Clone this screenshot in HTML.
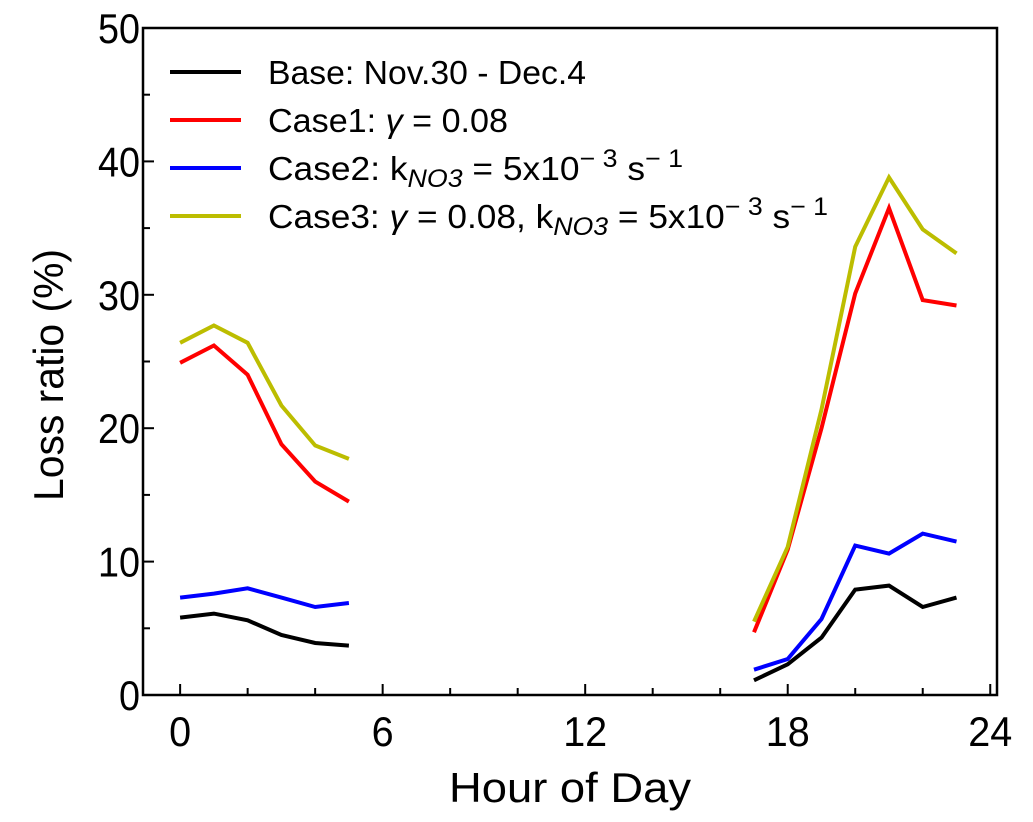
<!DOCTYPE html>
<html><head><meta charset="utf-8"><style>
html,body{margin:0;padding:0;background:#fff}
svg{display:block;font-family:"Liberation Sans",sans-serif}
</style></head><body>
<svg id="chart" width="1033" height="822" viewBox="0 0 1033 822">
<rect x="0" y="0" width="1033" height="822" fill="#fff"/>
<g id="marks"></g>
<g id="axes"></g>
<rect x="143" y="28" width="854" height="667" fill="none" stroke="#000" stroke-width="2.5"/>
<text x="570" y="802" font-size="42" text-anchor="middle" textLength="242" lengthAdjust="spacingAndGlyphs">Hour of Day</text>
<text transform="translate(63,375) rotate(-90)" font-size="42" text-anchor="middle" textLength="252" lengthAdjust="spacingAndGlyphs">Loss ratio (%)</text>
<g id="legend"></g>
</svg>
<script>
const hoursAM = [0,1,2,3,4,5];
const hoursPM = [17,18,19,20,21,22,23];
const baseAM = [5.8,6.1,5.6,4.5,3.9,3.7];
const basePM = [1.1,2.3,4.3,7.9,8.2,6.6,7.3];
const case1AM = [24.9,26.2,24.0,18.8,16.0,14.5];
const case1PM = [4.7,10.9,20.0,30.1,36.5,29.6,29.2];
const case2AM = [7.3,7.6,8.0,7.3,6.6,6.9];
const case2PM = [1.9,2.7,5.7,11.2,10.6,12.1,11.5];
const case3AM = [26.4,27.7,26.4,21.7,18.7,17.7];
const case3PM = [5.5,11.1,21.4,33.6,38.8,34.9,33.1];
const xTicks = [0,6,12,18,24];
const yTicks = [0,10,20,30,40,50];
const legendLabels = ["Base: Nov.30 - Dec.4","Case1: ~γ = 0.08","Case2: k_NO3 = 5x10^-3 s^-1","Case3: ~γ = 0.08, k_NO3 = 5x10^-3 s^-1"];

const NS="http://www.w3.org/2000/svg";
const X0=143,X1=997,Y0=695,Y1=28;
const xMin=-1.1,xMax=24.2,yMin=0,yMax=50;
function sx(v){return X0+(v-xMin)/(xMax-xMin)*(X1-X0);}
function sy(v){return Y0-(v-yMin)/(yMax-yMin)*(Y0-Y1);}
function mk(t,a,p){const e=document.createElementNS(NS,t);for(const k in a)e.setAttribute(k,a[k]);p.appendChild(e);return e;}
const marks=document.getElementById('marks'),axes=document.getElementById('axes'),legend=document.getElementById('legend');
const series=[
 {name:'base',color:'#000000',am:baseAM,pm:basePM},
 {name:'case1',color:'#ff0000',am:case1AM,pm:case1PM},
 {name:'case2',color:'#0000ff',am:case2AM,pm:case2PM},
 {name:'case3',color:'#bcbd00',am:case3AM,pm:case3PM}];
series.forEach(s=>{
 [[hoursAM,s.am,'morning'],[hoursPM,s.pm,'evening']].forEach(([xs,ys,part])=>{
  const pts=xs.map((h,i)=>sx(h).toFixed(1)+','+sy(ys[i]).toFixed(1)).join(' ');
  const l=mk('polyline',{points:pts,fill:'none',stroke:s.color,'stroke-width':4,'stroke-linejoin':'miter'},marks);
  
  
 });
});
for(let h=0;h<=24;h+=2){
 const major=h%6===0;
 const t=mk('line',{x1:sx(h),x2:sx(h),y1:Y0,y2:Y0-(major?11:7),stroke:'#000','stroke-width':2},axes);
 
 
}
xTicks.forEach(v=>{
 const s=String(v);
 const t=mk('text',{x:sx(v),y:746,'font-size':42,'text-anchor':'middle',textLength:s.length*22,lengthAdjust:'spacingAndGlyphs'},axes);
 t.textContent=s;
 
 
});
for(let v=0;v<=50;v+=5){
 const major=v%10===0;
 const t=mk('line',{x1:X0,x2:X0+(major?11:7),y1:sy(v),y2:sy(v),stroke:'#000','stroke-width':2},axes);
 
 
}
yTicks.forEach(v=>{
 const s=String(v);
 const t=mk('text',{x:140,y:sy(v)+15,'font-size':42,'text-anchor':'end',textLength:s.length*21,lengthAdjust:'spacingAndGlyphs'},axes);
 t.textContent=s;
 
 
});
const legendWidths=[318,240,415,560];
legendLabels.forEach((lab,i)=>{
 const y=72+i*48;
 const l=mk('line',{x1:170,x2:241,y1:y,y2:y,stroke:series[i].color,'stroke-width':4},legend);
 
 
 const t=mk('text',{x:268,y:y+12,'font-size':33,textLength:legendWidths[i],lengthAdjust:'spacingAndGlyphs'},legend);
 
 
 const parts=lab.split(/(_NO3|\^-3|\^-1|~γ)/).filter(p=>p);
 let pendingDy=0;
 parts.forEach(p=>{
  const ts=document.createElementNS(NS,'tspan');
  let dy=pendingDy;pendingDy=0;
  if(p==='_NO3'){ts.textContent='NO3';ts.setAttribute('font-size','25');ts.setAttribute('font-style','italic');dy+=7;pendingDy=-7;}
  else if(p==='^-3'||p==='^-1'){ts.textContent=p==='^-3'?'\u2212 3':'\u2212 1';ts.setAttribute('font-size','25');dy+=-13;pendingDy=13;}
  else if(p==='~γ'){ts.textContent='γ';ts.setAttribute('font-style','italic');}
  else{ts.textContent=p;}
  if(dy)ts.setAttribute('dy',dy);
  t.appendChild(ts);
 });
});
</script>
</body></html>
